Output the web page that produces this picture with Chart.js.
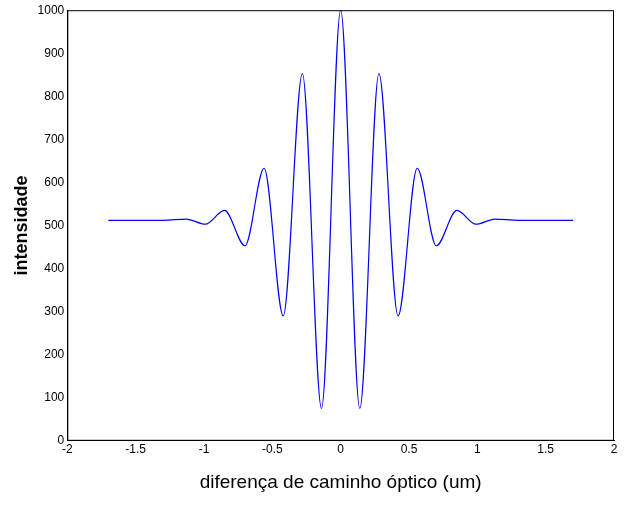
<!DOCTYPE html>
<html>
<head>
<script src="https://cdn.jsdelivr.net/npm/chart.js@4"></script>
<style>
  body { margin: 0; background: #fff; }
  #wrap { width: 633px; height: 506px; }
</style>
</head>
<body>
<div id="wrap"><canvas id="c" width="633" height="506"></canvas></div>
<script>
// optical path difference (um) and intensity at the turning points
const opd = [-1.7, -1.3, -1.13, -0.99, -0.85, -0.70, -0.56, -0.42, -0.28, -0.14, 0,
             0.14, 0.28, 0.42, 0.56, 0.70, 0.85, 0.99, 1.13, 1.3, 1.7];
const intensity = [512, 512, 515, 503, 535, 453, 633, 290, 853, 75, 1000,
                   75, 853, 290, 633, 453, 535, 503, 515, 512, 512];
const xTicks = [-2, -1.5, -1, -0.5, 0, 0.5, 1, 1.5, 2];

const points = opd.map((x, i) => ({ x: x, y: intensity[i] }));

new Chart(document.getElementById('c').getContext('2d'), {
    type: 'line',
    data: {
        datasets: [{
            data: points,
            borderColor: '#0000ff',
            borderWidth: 1.2,
            pointRadius: 0,
            cubicInterpolationMode: 'monotone',
            fill: false
        }]
    },
    options: {
        responsive: false,
        animation: false,
        layout: { padding: { top: 6, right: 19, bottom: 8, left: 7 } },
        plugins: { legend: { display: false }, tooltip: { enabled: false } },
        scales: {
            x: {
                type: 'linear',
                min: -2, max: 2,
                afterBuildTicks: axis => { axis.ticks = xTicks.map(v => ({ value: v })); },
                ticks: { color: '#000', font: { family: 'Arial', size: 12 }, padding: 2, callback: v => String(v) },
                grid: { display: false, drawTicks: false },
                border: { color: '#000' },
                title: {
                    display: true,
                    text: 'diferença de caminho óptico (um)',
                    color: '#000',
                    font: { family: 'Arial', size: 19 },
                    padding: { top: 12 }
                }
            },
            y: {
                min: 0, max: 1000,
                ticks: { stepSize: 100, color: '#000', font: { family: 'Arial', size: 12 }, padding: 3, callback: v => String(v) },
                grid: { display: false, drawTicks: false },
                border: { color: '#000' },
                title: {
                    display: true,
                    text: 'intensidade',
                    color: '#000',
                    font: { family: 'Arial', size: 18, weight: 'bold' },
                    padding: { bottom: 2 }
                }
            }
        }
    },
    plugins: [{
        id: 'box',
        afterDraw(chart) {
            const { ctx, chartArea: a } = chart;
            ctx.save();
            ctx.strokeStyle = '#000';
            ctx.lineWidth = 1;
            ctx.strokeRect(a.left + 0.5, a.top + 0.5, a.right - a.left - 1, a.bottom - a.top - 1);
            ctx.restore();
        }
    }]
});
</script>
</body>
</html>
